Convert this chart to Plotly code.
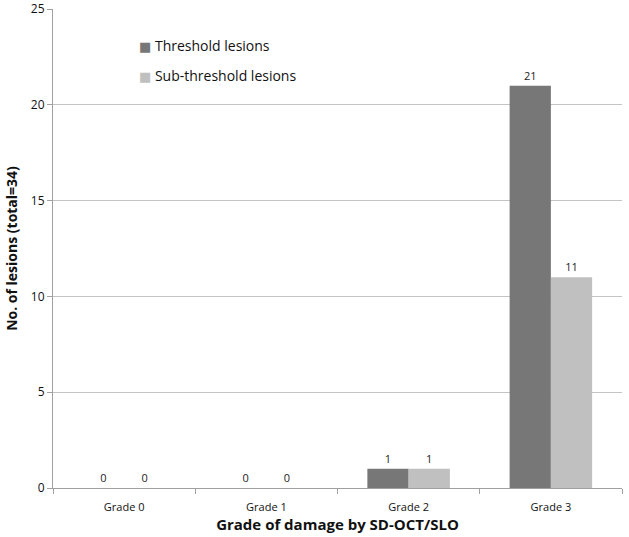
import plotly.graph_objects as go

categories = ["Grade 0", "Grade 1", "Grade 2", "Grade 3"]
threshold = [0, 0, 1, 21]
sub_threshold = [0, 0, 1, 11]
series_names = ["Threshold lesions", "Sub-threshold lesions"]
series_colors = ["#777777", "#c0c0c0"]
y_ticks = [0, 5, 10, 15, 20, 25]

FONT = "Open Sans"

fig = go.Figure()
for name, vals, col in zip(series_names, [threshold, sub_threshold], series_colors):
    fig.add_trace(go.Bar(
        x=categories, y=vals, name=name,
        marker=dict(color=col, line=dict(width=0)),
        text=[str(v) for v in vals], textposition="outside",
        textfont=dict(size=11, color="#222222", family=FONT),
        cliponaxis=False, showlegend=False,
    ))

# legend drawn as text annotations
legend_y = [0.9228, 0.862]
for name, col, ly in zip(series_names, series_colors, legend_y):
    fig.add_annotation(
        xref="paper", yref="paper", x=0.1476, y=ly,
        xanchor="left", yanchor="middle", showarrow=False,
        text=f"<span style='color:{col};font-family:DejaVu Sans;font-size:13px'>■</span> {name}",
        font=dict(size=14, family=FONT, color="#111111"),
    )

fig.update_layout(
    width=629, height=537,
    margin=dict(l=53, r=7, t=9, b=49),
    paper_bgcolor="white", plot_bgcolor="white",
    font=dict(family=FONT, color="#111111"),
    barmode="group", bargap=0.42, bargroupgap=0,
    uniformtext=dict(minsize=8, mode="show"),
)
fig.update_xaxes(
    automargin=False,
    showline=True, linecolor="#a0a0a0", linewidth=1,
    ticks="outside", tickson="boundaries", ticklen=5, tickcolor="#a0a0a0",
    ticklabelstandoff=9,
    tickfont=dict(size=11, family=FONT),
    title=dict(text="<b>Grade of damage by SD-OCT/SLO</b>", font=dict(size=15, family=FONT), standoff=0),
    showgrid=False,
)
fig.update_yaxes(
    automargin=False,
    range=[0, 25.01], tickvals=y_ticks,
    showline=True, linecolor="#a0a0a0", linewidth=1,
    ticks="outside", ticklen=5, tickcolor="#a0a0a0",
    tickfont=dict(size=12, family=FONT),
    showgrid=True, gridcolor="#c4c4c4", gridwidth=1,
    zeroline=False,
    title=dict(text="<b>No. of lesions (total=34)</b>", font=dict(size=14, family=FONT), standoff=9),
)

fig.write_html("out.html", config={"displayModeBar": False},
               post_script="document.body.style.margin='0';")
